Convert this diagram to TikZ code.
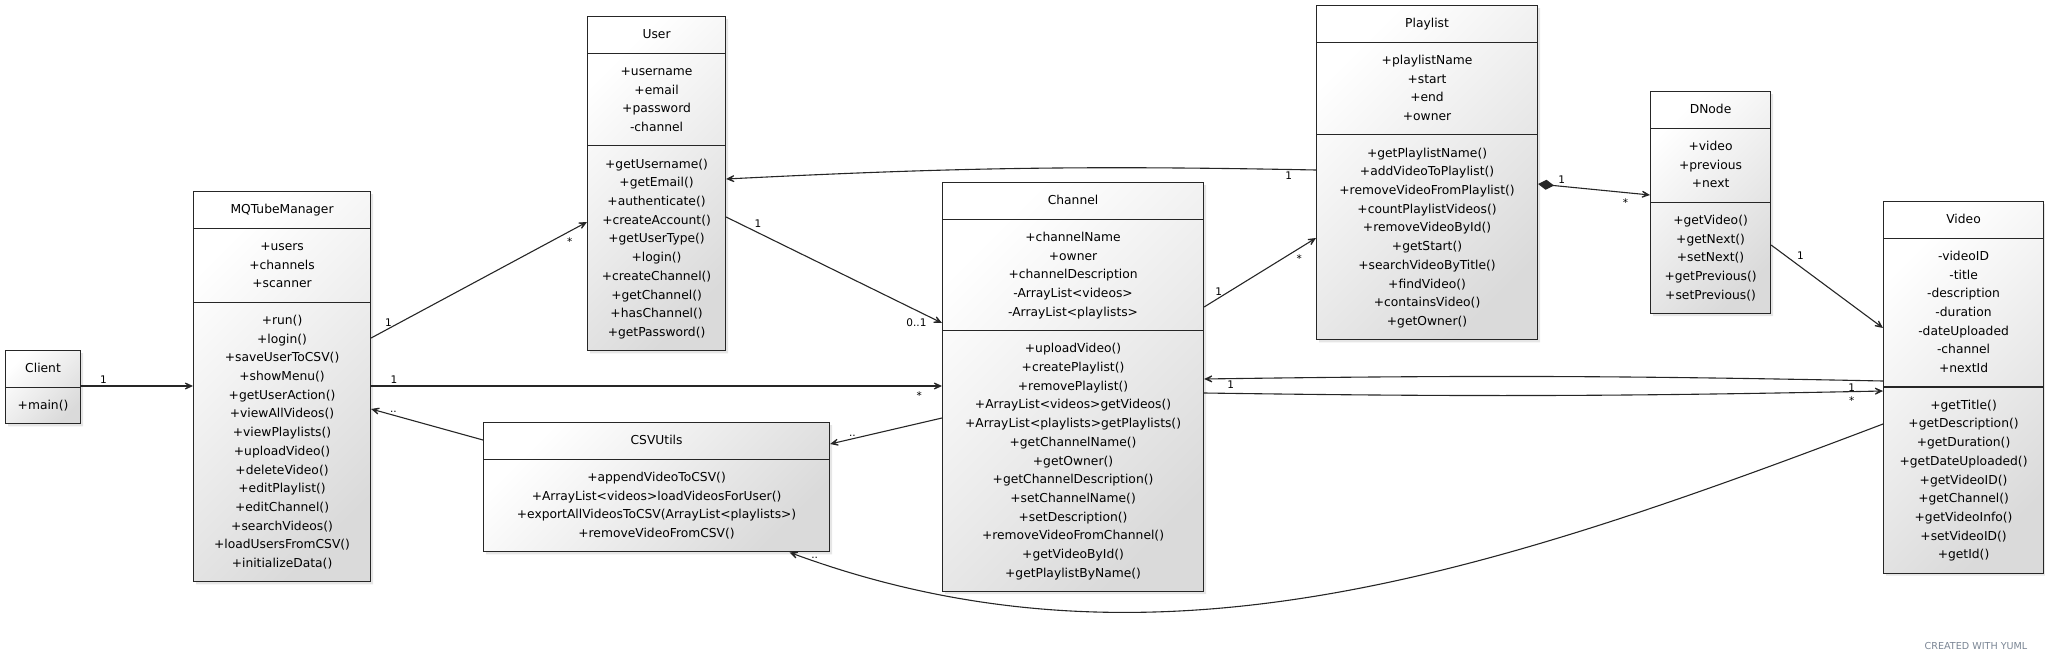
\documentclass[tikz,border=0pt]{standalone}
\usepackage{fontspec}
\setmainfont{DejaVu Sans}
\usetikzlibrary{shapes.multipart,shadows,arrows.meta}

\definecolor{umlline}{HTML}{262626}
\definecolor{umlshade}{HTML}{DADADA}
\definecolor{yumlgray}{HTML}{7A8594}
\newcommand{\umlstrut}{\rule[-5.4pt]{0pt}{18.7pt}}

\begin{document}
\begin{tikzpicture}[x=1pt,y=-1pt,
  umlclass/.style={rectangle split, rectangle split parts=3, draw=umlline, line width=1.1pt,
    top color=white, bottom color=umlshade, shading angle=45,
    drop shadow={shadow xshift=2.5pt,shadow yshift=-2.5pt,opacity=0.2},
    align=center, anchor=north west, inner xsep=6pt, inner ysep=8.4pt,
    font=\fontsize{12.3}{18.7}\selectfont},
  assoc/.style={draw=umlline, line width=1.1pt, -{Stealth[length=13pt,width=12pt,inset=8.5pt]}},
  mult/.style={font=\fontsize{10.5}{12}\selectfont, inner sep=2pt}
]
  \useasboundingbox (0,0) rectangle (2045,661);

  % Client
  \node[umlclass, rectangle split parts=2, minimum width=75pt] (client) at (5,350)
    {Client\umlstrut \nodepart{second}\umlstrut+main()};

  % MQTubeManager
  \node[umlclass, minimum width=177pt] (mq) at (193,191)
    {MQTubeManager\umlstrut
     \nodepart{second}\umlstrut+users\\+channels\\+scanner\umlstrut
     \nodepart{third}\umlstrut+run()\\+login()\\+saveUserToCSV()\\+showMenu()\\+getUserAction()\\
       +viewAllVideos()\\+viewPlaylists()\\+uploadVideo()\\+deleteVideo()\\+editPlaylist()\\
       +editChannel()\\+searchVideos()\\+loadUsersFromCSV()\\+initializeData()\umlstrut};

  % User
  \node[umlclass, minimum width=138pt] (user) at (587,16)
    {User\umlstrut
     \nodepart{second}\umlstrut+username\\+email\\+password\\-channel\umlstrut
     \nodepart{third}\umlstrut+getUsername()\\+getEmail()\\+authenticate()\\+createAccount()\\
       +getUserType()\\+login()\\+createChannel()\\+getChannel()\\+hasChannel()\\+getPassword()\umlstrut};

  % CSVUtils
  \node[umlclass, rectangle split parts=2, minimum width=346pt] (csv) at (483,422)
    {CSVUtils\umlstrut
     \nodepart{second}\umlstrut+appendVideoToCSV()\\+ArrayList<videos>loadVideosForUser()\\
       +exportAllVideosToCSV(ArrayList<playlists>)\\+removeVideoFromCSV()\umlstrut};

  % Channel
  \node[umlclass, minimum width=261pt] (channel) at (942,182)
    {Channel\umlstrut
     \nodepart{second}\umlstrut+channelName\\+owner\\+channelDescription\\-ArrayList<videos>\\
       -ArrayList<playlists>\umlstrut
     \nodepart{third}\umlstrut+uploadVideo()\\+createPlaylist()\\+removePlaylist()\\
       +ArrayList<videos>getVideos()\\+ArrayList<playlists>getPlaylists()\\+getChannelName()\\
       +getOwner()\\+getChannelDescription()\\+setChannelName()\\+setDescription()\\
       +removeVideoFromChannel()\\+getVideoById()\\+getPlaylistByName()\umlstrut};

  % Playlist
  \node[umlclass, minimum width=221pt] (playlist) at (1316,5)
    {Playlist\umlstrut
     \nodepart{second}\umlstrut+playlistName\\+start\\+end\\+owner\umlstrut
     \nodepart{third}\umlstrut+getPlaylistName()\\+addVideoToPlaylist()\\+removeVideoFromPlaylist()\\
       +countPlaylistVideos()\\+removeVideoById()\\+getStart()\\+searchVideoByTitle()\\
       +findVideo()\\+containsVideo()\\+getOwner()\umlstrut};

  % DNode
  \node[umlclass, minimum width=120pt] (dnode) at (1650,91)
    {DNode\umlstrut
     \nodepart{second}\umlstrut+video\\+previous\\+next\umlstrut
     \nodepart{third}\umlstrut+getVideo()\\+getNext()\\+setNext()\\+getPrevious()\\+setPrevious()\umlstrut};

  % Video
  \node[umlclass, minimum width=160pt] (video) at (1883,201)
    {Video\umlstrut
     \nodepart{second}\umlstrut-videoID\\-title\\-description\\-duration\\-dateUploaded\\
       -channel\\+nextId\umlstrut
     \nodepart{third}\umlstrut+getTitle()\\+getDescription()\\+getDuration()\\+getDateUploaded()\\
       +getVideoID()\\+getChannel()\\+getVideoInfo()\\+setVideoID()\\+getId()\umlstrut};

  % Client uses manager
  \draw[assoc] ([yshift=-36pt]client.north east) -- node[mult, pos=0.2, above]{1}
    ([yshift=-195pt]mq.north west);

  % Manager to user
  \draw[assoc] ([yshift=-147pt]mq.north east) -- node[mult, pos=0.08, above]{1}
    node[mult, pos=0.92, below=4pt]{*} ([yshift=-206pt]user.north west);

  % Manager to channel
  \draw[assoc] ([yshift=-195pt]mq.north east) -- node[mult, pos=0.04, above]{1}
    node[mult, pos=0.96, below=3pt]{*} ([yshift=-204pt]channel.north west);

  % CSVUtils to manager
  \draw[assoc] ([yshift=-18pt]csv.north west) -- node[mult, pos=0.8, above]{..}
    ([yshift=-218pt]mq.north east);

  % Channel to CSVUtils
  \draw[assoc] ([yshift=-236pt]channel.north west) -- node[mult, pos=0.8, above]{..}
    ([yshift=-22pt]csv.north east);

  % Video to CSVUtils
  \draw[assoc] ([yshift=-223pt]video.north west) .. controls (1483,576) and (1150,685) ..
    node[mult, pos=0.985, right=3pt]{..} ([xshift=133pt]csv.south);

  % User to channel
  \draw[assoc] ([yshift=-201pt]user.north east) -- node[mult, pos=0.12, above right]{1}
    node[mult, pos=1, anchor=east, xshift=-13pt]{0..1} ([yshift=-141pt]channel.north west);

  % Playlist to user
  \draw[assoc] ([yshift=-165pt]playlist.north west) to[bend right=2]
    node[mult, pos=0.04, below]{1} ([yshift=-163pt]user.north east);

  % Channel to playlist
  \draw[assoc] ([yshift=-125pt]channel.north east) -- node[mult, pos=0.13, above]{1}
    node[mult, pos=0.85, below=4pt]{*} ([yshift=-233pt]playlist.north west);

  % Playlist holds nodes
  \draw[assoc, {Diamond[length=16pt,width=10pt,fill=umlline]}-{Stealth[length=13pt,width=12pt,inset=8.5pt]}]
    ([yshift=-179pt]playlist.north east) -- node[mult, pos=0.21, above]{1}
    node[mult, pos=0.78, below=4pt]{*} ([yshift=-104pt]dnode.north west);

  % Node to video
  \draw[assoc] ([yshift=-154pt]dnode.north east) -- node[mult, pos=0.21, above right]{1}
    ([yshift=-127pt]video.north west);

  % Video and channel
  \draw[assoc] ([yshift=-180pt]video.north west) to[bend right=1]
    node[mult, pos=0.966, below]{1} ([yshift=-197pt]channel.north east);
  \draw[assoc] ([yshift=-211pt]channel.north east) to[bend right=1]
    node[mult, pos=0.96, yshift=4pt]{1} node[mult, pos=0.96, below=3pt]{*}
    ([yshift=-190pt]video.north west);

  % Credit
  \node[font=\fontsize{9.6}{11}\selectfont, text=yumlgray] (credit) at (1976,646) {CREATED WITH YUML};
\end{tikzpicture}
\end{document}
